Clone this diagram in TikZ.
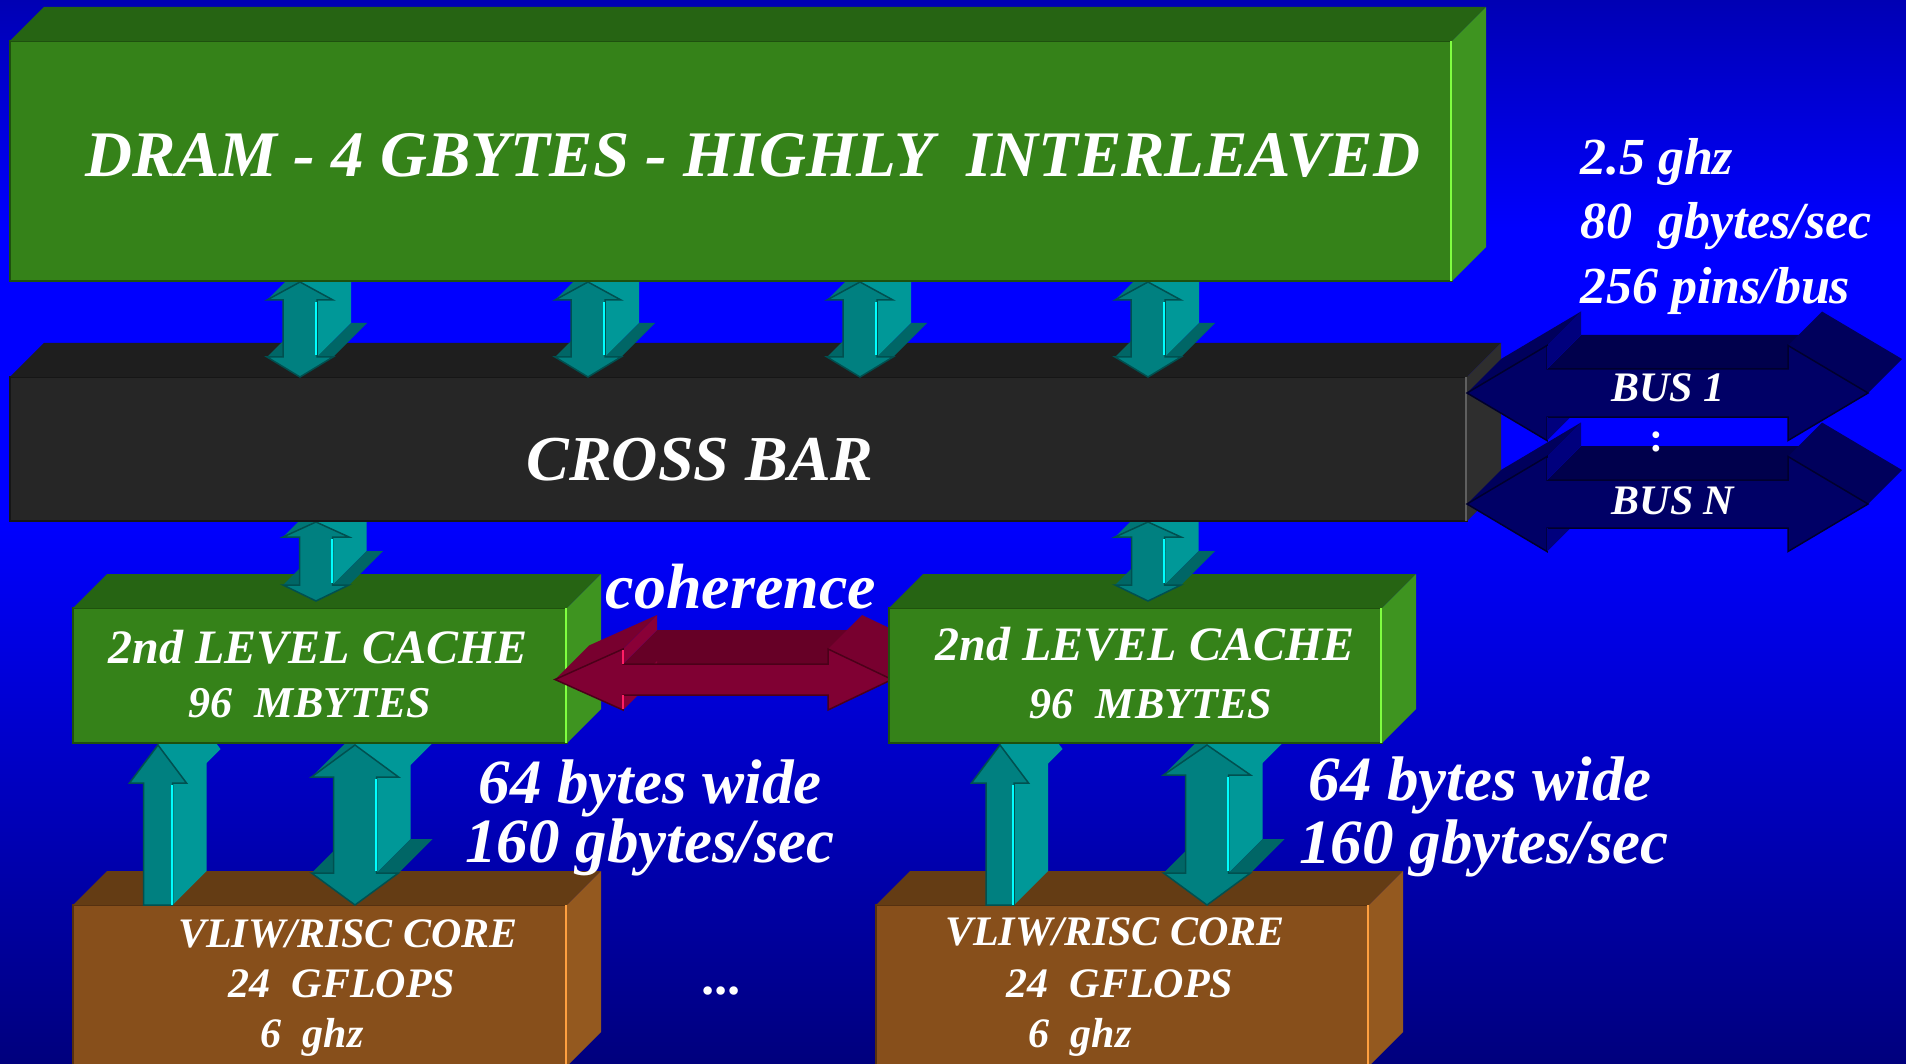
\documentclass[tikz,border=0pt]{standalone}
\usepackage{fontspec}
\setmainfont{Liberation Serif}
\usetikzlibrary{calc}
\definecolor{bgtop}{RGB}{0,0,180}
\definecolor{bgmid}{RGB}{0,0,255}
\definecolor{bgbot}{RGB}{0,0,125}
\definecolor{grfront}{RGB}{53,130,25}
\definecolor{grtop}{RGB}{38,100,19}
\definecolor{grside}{RGB}{62,148,32}
\definecolor{grhl}{RGB}{128,255,64}
\definecolor{gredge}{RGB}{30,80,14}
\definecolor{cbfront}{RGB}{38,38,38}
\definecolor{cbtop}{RGB}{30,30,30}
\definecolor{cbside}{RGB}{46,46,46}
\definecolor{cbhl}{RGB}{95,95,95}
\definecolor{cbedge}{RGB}{22,22,22}
\definecolor{brfront}{RGB}{135,79,27}
\definecolor{brtop}{RGB}{100,60,20}
\definecolor{brside}{RGB}{148,89,31}
\definecolor{brhl}{RGB}{255,160,64}
\definecolor{bredge}{RGB}{85,48,16}
\definecolor{tlfront}{RGB}{0,128,128}
\definecolor{tlside}{RGB}{0,152,152}
\definecolor{tlslant}{RGB}{0,118,118}
\definecolor{tldark}{RGB}{0,102,102}
\definecolor{tledge}{RGB}{0,80,80}
\definecolor{tlhl}{RGB}{0,255,255}
\definecolor{mrfrontc}{RGB}{128,0,51}
\definecolor{mrtopc}{RGB}{102,0,38}
\definecolor{mrslantc}{RGB}{120,0,47}
\definecolor{mrledgec}{RGB}{138,0,55}
\definecolor{mredgec}{RGB}{75,0,25}
\definecolor{mrhlc}{RGB}{255,30,100}
\definecolor{nvfrontc}{RGB}{0,0,102}
\definecolor{nvtopc}{RGB}{0,0,76}
\definecolor{nvslantc}{RGB}{0,0,92}
\definecolor{nvledgec}{RGB}{0,0,125}
\definecolor{nvedgec}{RGB}{0,0,45}
\newcommand\tsz[1]{\fontsize{#1}{#1}\selectfont}
\def\dX{34}
\def\dY{34}
\tikzset{
  blk/.style={rectangle, inner sep=0pt, outer sep=0pt, anchor=north west, line width=2pt},
  txt/.style={text=white, font=\bfseries\itshape, inner sep=0pt, outer sep=0pt},
  mrfront/.style={fill=mrfrontc, draw=mredgec, line width=1.5pt, line join=miter},
  mrtop/.style={fill=mrtopc},
  mrslant/.style={fill=mrslantc},
  mrledge/.style={fill=mrledgec},
  mrhl/.style={draw=mrhlc, line width=2pt},
  nvfront/.style={fill=nvfrontc, draw=nvedgec, line width=1.5pt, line join=miter},
  nvtop/.style={fill=nvtopc},
  nvslant/.style={fill=nvslantc},
  nvledge/.style={fill=nvledgec},
  nvhl/.style={draw=nvledgec, line width=1pt},
  tfront/.style={fill=tlfront, draw=tledge, line width=1.5pt, line join=miter},
  thl/.style={draw=tlhl, line width=2pt}
}
% box side faces: node, top colour, side colour, highlight colour
\newcommand\boxsides[4]{%
  \fill[#2] (#1.north west) -- ++(\dX,-\dY) -- ($(#1.north east)+(\dX,-\dY)$) -- (#1.north east) -- cycle;
  \fill[#3] (#1.north east) -- ++(\dX,-\dY) -- ($(#1.south east)+(\dX,-\dY)$) -- (#1.south east) -- cycle;
  \draw[#4, line width=2.5pt] ([xshift=-1pt]#1.north east) -- ([xshift=-1pt]#1.south east);
}
% vertical double arrow: cx, ytop, yb1, yb2, ybot, head half width, shaft half width
\newcommand\vdblarrow[7]{%
  \fill[tlslant] (#1-#6,#3) -- (#1,#2) -- (#1+\dX,#2-\dY) -- (#1-#6+\dX,#3-\dY) -- cycle;
  \fill[tlside] (#1+#7,#3) -- (#1+#7+\dX,#3-\dY) -- (#1+#7+\dX,#4-\dY) -- (#1+#7,#4) -- cycle;
  \fill[tlside] (#1,#2) -- (#1+#6,#3) -- (#1+#6+\dX,#3-\dY) -- (#1+\dX,#2-\dY) -- cycle;
  \fill[tldark] (#1+#7,#4) -- (#1+#6,#4) -- (#1+#6+\dX,#4-\dY) -- (#1+#7+\dX,#4-\dY) -- cycle;
  \fill[tldark] (#1-#6,#4) -- (#1-#7,#4) -- (#1-#7+\dX,#4-\dY) -- (#1-#6+\dX,#4-\dY) -- cycle;
  \filldraw[tfront] (#1,#2) -- (#1+#6,#3) -- (#1+#7,#3) -- (#1+#7,#4) -- (#1+#6,#4) -- (#1,#5)
     -- (#1-#6,#4) -- (#1-#7,#4) -- (#1-#7,#3) -- (#1-#6,#3) -- cycle;
  \draw[thl] (#1+#7-1,#3+2) -- (#1+#7-1,#4-2);
}
% vertical up arrow: cx, ytop, yb1, ybot, head half width, shaft half width
\newcommand\vuparrow[6]{%
  \fill[tlslant] (#1-#5,#3) -- (#1,#2) -- (#1+\dX,#2-\dY) -- (#1-#5+\dX,#3-\dY) -- cycle;
  \fill[tlside] (#1+#6,#3) -- (#1+#6+\dX,#3-\dY) -- (#1+#6+\dX,#4-\dY) -- (#1+#6,#4) -- cycle;
  \fill[tlside] (#1,#2) -- (#1+#5,#3) -- (#1+#5+\dX,#3-\dY) -- (#1+\dX,#2-\dY) -- cycle;
  \filldraw[tfront] (#1,#2) -- (#1+#5,#3) -- (#1+#6,#3) -- (#1+#6,#4) -- (#1-#6,#4) -- (#1-#6,#3) -- (#1-#5,#3) -- cycle;
  \draw[thl] (#1+#6-1,#3+2) -- (#1+#6-1,#4);
}
% horizontal double arrow: xl, xb1, xb2, xr, cy, head half height, shaft half height, style prefix
\newcommand\hdblarrow[8]{%
  \fill[#8top] (#2,#5-#7) -- (#3,#5-#7) -- (#3+\dX,#5-#7-\dY) -- (#2+\dX,#5-#7-\dY) -- cycle;
  \fill[#8ledge] (#2,#5-#6) -- (#2,#5-#7) -- (#2+\dX,#5-#7-\dY) -- (#2+\dX,#5-#6-\dY) -- cycle;
  \fill[#8ledge] (#2,#5+#7) -- (#2,#5+#6) -- (#2+\dX,#5+#6-\dY) -- (#2+\dX,#5+#7-\dY) -- cycle;
  \fill[#8slant] (#1,#5) -- (#2,#5-#6) -- (#2+\dX,#5-#6-\dY) -- (#1+\dX,#5-\dY) -- cycle;
  \fill[#8slant] (#3,#5-#6) -- (#4,#5) -- (#4+\dX,#5-\dY) -- (#3+\dX,#5-#6-\dY) -- cycle;
  \filldraw[#8front] (#1,#5) -- (#2,#5-#6) -- (#2,#5-#7) -- (#3,#5-#7) -- (#3,#5-#6) -- (#4,#5)
     -- (#3,#5+#6) -- (#3,#5+#7) -- (#2,#5+#7) -- (#2,#5+#6) -- cycle;
  \draw[#8hl] (#2,#5-#6+1) -- (#2,#5-#7) (#2,#5+#7) -- (#2,#5+#6-1);
}
\begin{document}
\begin{tikzpicture}[x=1pt,y=-1pt]
\useasboundingbox (0,0) rectangle (1906,1064);
% background
\shade[top color=bgtop, bottom color=bgmid] (0,0) rectangle (1906,231);
\fill[bgmid] (0,230) rectangle (1906,521);
\shade[top color=bgmid, bottom color=bgbot] (0,520) rectangle (1906,1064);

% cores
\node[blk, fill=brfront, draw=bredge, minimum width=494pt, minimum height=161pt] (coreL) at (73,905) {};
\boxsides{coreL}{brtop}{brside}{brhl}
\node[blk, fill=brfront, draw=bredge, minimum width=493pt, minimum height=161pt] (coreR) at (876,905) {};
\boxsides{coreR}{brtop}{brside}{brhl}

% cache <-> core arrows
\vuparrow{158}{745}{783}{905}{28.5}{14.5}
\vdblarrow{355}{745}{777}{873}{905}{43.5}{21.5}
\vuparrow{1000}{745}{783}{905}{28.5}{14}
\vdblarrow{1207}{745}{775}{873}{905}{43.5}{21.5}

% left cache
\node[blk, fill=grfront, draw=gredge, minimum width=494pt, minimum height=135pt] (cacheL) at (73,608) {};
\boxsides{cacheL}{grtop}{grside}{grhl}

% coherence arrow
\hdblarrow{555}{623}{828}{892}{679.5}{30.5}{15.5}{mr}

% right cache
\node[blk, fill=grfront, draw=gredge, minimum width=493pt, minimum height=135pt] (cacheR) at (889,608) {};
\boxsides{cacheR}{grtop}{grside}{grhl}

% crossbar <-> cache arrows
\vdblarrow{316}{522}{537}{585}{601}{33}{16.5}
\vdblarrow{1148}{522}{537}{585}{601}{33}{16.5}

% crossbar
\node[blk, fill=cbfront, draw=cbedge, minimum width=1457pt, minimum height=144pt] (xbar) at (10,377) {};
\boxsides{xbar}{cbtop}{cbside}{cbhl}

% buses
\hdblarrow{1467}{1547}{1788}{1868}{393}{47.5}{24}{nv}
\hdblarrow{1467}{1547}{1788}{1868}{504}{47.5}{24}{nv}

% DRAM <-> crossbar arrows
\vdblarrow{300}{282}{300}{357}{377}{33}{17}
\vdblarrow{588}{282}{300}{357}{377}{33}{17}
\vdblarrow{860}{282}{300}{357}{377}{33}{17}
\vdblarrow{1148}{282}{300}{357}{377}{33}{17}

% DRAM
\node[blk, fill=grfront, draw=gredge, minimum width=1442pt, minimum height=240pt] (dram) at (10,41) {};
\boxsides{dram}{grtop}{grside}{grhl}

% texts
\node[txt, anchor=base] (tdram) at (753,177) {\tsz{65}DRAM - 4 GBYTES - HIGHLY\ \ INTERLEAVED};
\node[txt, anchor=base] (txbar) at (700,480) {\tsz{64}CROSS BAR};
\node[txt, anchor=base] (tcl1) at (318,663) {\tsz{48}2nd LEVEL CACHE};
\node[txt, anchor=base] (tcl2) at (310,717) {\tsz{44}96\ \ MBYTES};
\node[txt, anchor=base] (tcr1) at (1145,660) {\tsz{48}2nd LEVEL CACHE};
\node[txt, anchor=base] (tcr2) at (1151,718) {\tsz{44}96\ \ MBYTES};
\node[txt, anchor=base] (tkl1) at (348,947) {\tsz{42}VLIW/RISC CORE};
\node[txt, anchor=base] (tkl2) at (342,997) {\tsz{42}24\ \ GFLOPS};
\node[txt, anchor=base] (tkl3) at (312,1047) {\tsz{42}6\ \ ghz};
\node[txt, anchor=base] (tkr1) at (1115,945) {\tsz{42}VLIW/RISC CORE};
\node[txt, anchor=base] (tkr2) at (1120,997) {\tsz{42}24\ \ GFLOPS};
\node[txt, anchor=base] (tkr3) at (1080,1047) {\tsz{42}6\ \ ghz};
\node[txt, anchor=base] (tcoh) at (741,608) {\tsz{64}coherence};
\node[txt, anchor=base] (tl1) at (650,803) {\tsz{63}64 bytes wide};
\node[txt, anchor=base] (tl2) at (650,862) {\tsz{63}160 gbytes/sec};
\node[txt, anchor=base] (tr1) at (1480,800) {\tsz{63}64 bytes wide};
\node[txt, anchor=base] (tr2) at (1484,863) {\tsz{63}160 gbytes/sec};
\node[txt, anchor=base west] (ts1) at (1580,175) {\tsz{52}2.5 ghz};
\node[txt, anchor=base west] (ts2) at (1580,239) {\tsz{52}80\ \ gbytes/sec};
\node[txt, anchor=base west] (ts3) at (1580,304) {\tsz{52}256 pins/bus};
\node[txt, anchor=base] (tb1) at (1668,402) {\tsz{42}BUS 1};
\node[txt, anchor=base] (tbn) at (1673,514) {\tsz{42}BUS N};
\node[txt, anchor=base] (tcolon) at (1656,451) {\tsz{42}\upshape :};
\node[txt, anchor=base] (tdots) at (723,994) {\tsz{52}...};
\end{tikzpicture}
\end{document}
